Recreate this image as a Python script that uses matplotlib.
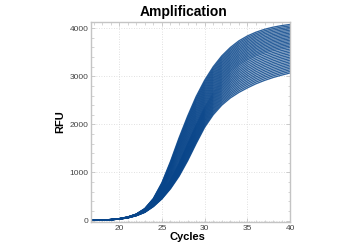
import matplotlib
matplotlib.use("Agg")
import matplotlib.pyplot as plt
import numpy as np
from matplotlib.ticker import MultipleLocator

plt.rcParams['font.family'] = ['Liberation Sans', 'DejaVu Sans']

title = "Amplification"
x_label = "Cycles"
y_label = "RFU"

cycles = [16, 17, 18, 19, 20, 21, 22, 23, 24, 25, 26, 27, 28,
          29, 30, 31, 32, 33, 34, 35, 36, 37, 38, 39, 40]

# RFU table: one row per cycle, one column per well
rfu_table = [
    [3, 3, 3, 3, 3, 3, 3, 3, 3, 3, 3, 3, 3, 3, 3, 3, 3, 3, 3, 3, 3, 3, 3, 3, 3, 3, 3, 3, 3, 3, 3, 3, 3],
    [5, 5, 5, 5, 5, 5, 5, 5, 5, 5, 5, 5, 5, 5, 5, 5, 5, 5, 5, 5, 5, 5, 5, 5, 6, 6, 6, 6, 6, 6, 6, 6, 6],
    [9, 9, 9, 9, 9, 9, 9, 9, 10, 10, 10, 10, 10, 10, 10, 10, 10, 10, 10, 10, 10, 10, 10, 10, 11, 11, 11, 11, 11, 11, 11, 11, 11],
    [17, 17, 17, 17, 18, 18, 18, 18, 18, 18, 18, 18, 19, 19, 19, 19, 19, 19, 19, 19, 20, 20, 20, 20, 20, 20, 20, 20, 21, 21, 21, 21, 21],
    [30, 30, 31, 31, 31, 32, 32, 32, 33, 33, 33, 33, 34, 34, 34, 35, 35, 35, 36, 36, 36, 37, 37, 37, 38, 38, 38, 38, 39, 39, 39, 40, 40],
    [55, 56, 56, 57, 58, 58, 59, 59, 60, 61, 61, 62, 63, 63, 64, 64, 65, 66, 66, 67, 68, 68, 69, 69, 70, 71, 71, 72, 73, 73, 74, 74, 75],
    [100, 101, 103, 104, 105, 106, 108, 109, 110, 111, 113, 114, 115, 116, 118, 119, 120, 121, 122, 123, 124, 125, 126, 127, 128, 128, 129, 130, 131, 132, 133, 134, 135],
    [170, 173, 175, 178, 180, 183, 185, 188, 190, 193, 195, 198, 200, 203, 205, 208, 210, 213, 215, 218, 220, 223, 225, 228, 230, 233, 235, 238, 240, 243, 245, 248, 250],
    [290, 294, 299, 303, 308, 312, 316, 321, 325, 329, 334, 338, 343, 347, 351, 356, 360, 366, 373, 379, 385, 391, 398, 404, 410, 416, 423, 429, 435, 441, 448, 454, 460],
    [450, 458, 465, 473, 480, 488, 495, 503, 510, 518, 525, 533, 540, 548, 555, 563, 570, 584, 598, 611, 625, 639, 653, 666, 680, 694, 708, 721, 735, 749, 763, 776, 790],
    [660, 672, 684, 696, 708, 719, 731, 743, 755, 767, 779, 791, 803, 814, 826, 838, 850, 874, 898, 921, 945, 969, 993, 1016, 1040, 1064, 1088, 1111, 1135, 1159, 1183, 1206, 1230],
    [920, 938, 955, 973, 990, 1008, 1025, 1043, 1060, 1078, 1095, 1113, 1130, 1148, 1165, 1183, 1200, 1233, 1265, 1298, 1330, 1363, 1395, 1428, 1460, 1493, 1525, 1558, 1590, 1623, 1655, 1688, 1720],
    [1240, 1263, 1286, 1309, 1333, 1356, 1379, 1402, 1425, 1448, 1471, 1494, 1518, 1541, 1564, 1587, 1610, 1645, 1680, 1715, 1750, 1785, 1820, 1855, 1890, 1925, 1960, 1995, 2030, 2065, 2100, 2135, 2170],
    [1600, 1626, 1651, 1677, 1703, 1728, 1754, 1779, 1805, 1831, 1856, 1882, 1908, 1933, 1959, 1984, 2010, 2046, 2081, 2117, 2153, 2188, 2224, 2259, 2295, 2331, 2366, 2402, 2438, 2473, 2509, 2544, 2580],
    [1940, 1967, 1994, 2021, 2048, 2074, 2101, 2128, 2155, 2182, 2209, 2236, 2263, 2289, 2316, 2343, 2370, 2404, 2439, 2473, 2508, 2542, 2576, 2611, 2645, 2679, 2714, 2748, 2783, 2817, 2851, 2886, 2920],
    [2200, 2229, 2259, 2288, 2318, 2347, 2376, 2406, 2435, 2464, 2494, 2523, 2553, 2582, 2611, 2641, 2670, 2703, 2736, 2769, 2803, 2836, 2869, 2902, 2935, 2968, 3001, 3034, 3068, 3101, 3134, 3167, 3200],
    [2400, 2432, 2464, 2496, 2528, 2559, 2591, 2623, 2655, 2687, 2719, 2751, 2783, 2814, 2846, 2878, 2910, 2942, 2974, 3007, 3039, 3071, 3103, 3135, 3168, 3200, 3232, 3264, 3296, 3328, 3361, 3393, 3425],
    [2550, 2584, 2618, 2651, 2685, 2719, 2753, 2786, 2820, 2854, 2888, 2921, 2955, 2989, 3023, 3056, 3090, 3122, 3154, 3186, 3218, 3249, 3281, 3313, 3345, 3377, 3409, 3441, 3473, 3504, 3536, 3568, 3600],
    [2665, 2700, 2736, 2771, 2806, 2842, 2877, 2912, 2948, 2983, 3018, 3053, 3089, 3124, 3159, 3195, 3230, 3262, 3294, 3325, 3357, 3389, 3421, 3452, 3484, 3516, 3548, 3579, 3611, 3643, 3675, 3706, 3738],
    [2760, 2796, 2833, 2869, 2905, 2941, 2978, 3014, 3050, 3086, 3123, 3159, 3195, 3231, 3268, 3304, 3340, 3371, 3403, 3434, 3465, 3496, 3528, 3559, 3590, 3621, 3653, 3684, 3715, 3746, 3778, 3809, 3840],
    [2845, 2881, 2917, 2953, 2989, 3025, 3061, 3097, 3133, 3168, 3204, 3240, 3276, 3312, 3348, 3384, 3420, 3451, 3482, 3513, 3545, 3576, 3607, 3638, 3669, 3700, 3731, 3762, 3794, 3825, 3856, 3887, 3918],
    [2915, 2950, 2986, 3021, 3056, 3092, 3127, 3162, 3198, 3233, 3268, 3303, 3339, 3374, 3409, 3445, 3480, 3511, 3542, 3573, 3605, 3636, 3667, 3698, 3729, 3760, 3791, 3822, 3854, 3885, 3916, 3947, 3978],
    [2975, 3010, 3044, 3079, 3114, 3148, 3183, 3218, 3253, 3287, 3322, 3357, 3391, 3426, 3461, 3495, 3530, 3561, 3592, 3622, 3653, 3684, 3715, 3745, 3776, 3807, 3838, 3868, 3899, 3930, 3961, 3991, 4022],
    [3025, 3059, 3093, 3127, 3161, 3195, 3229, 3263, 3298, 3332, 3366, 3400, 3434, 3468, 3502, 3536, 3570, 3600, 3631, 3661, 3691, 3722, 3752, 3782, 3813, 3843, 3873, 3903, 3934, 3964, 3994, 4025, 4055],
    [3070, 3103, 3136, 3169, 3203, 3236, 3269, 3302, 3335, 3368, 3401, 3434, 3468, 3501, 3534, 3567, 3600, 3630, 3660, 3690, 3720, 3750, 3780, 3810, 3840, 3869, 3899, 3929, 3959, 3989, 4019, 4049, 4079],
]

x_ticks = [20, 25, 30, 35, 40]
y_ticks = [0, 1000, 2000, 3000, 4000]

line_color = "#08458a"
frame_color = "#c4c4c4"
tick_label_color = "#444444"

fig = plt.figure(figsize=(3.5, 2.5), dpi=100)
ax = fig.add_axes([0.26, 0.112, 0.569, 0.80])

table = np.array(rfu_table)
for j in range(table.shape[1]):
    ax.plot(cycles, table[:, j], color=line_color, lw=0.95, alpha=0.85)

ax.set_xlim(16.7, 40)
ax.set_ylim(-30, 4130)
ax.set_xticks(x_ticks)
ax.set_yticks(y_ticks)
ax.xaxis.set_minor_locator(MultipleLocator(1))
ax.yaxis.set_minor_locator(MultipleLocator(200))

ax.grid(True, which='major', color='#d6d6d6', linestyle=(0, (1, 2)), lw=0.6)
ax.set_axisbelow(True)

for s in ax.spines.values():
    s.set_color(frame_color)
    s.set_linewidth(1.0)

ax.tick_params(which='both', direction='in', top=True, right=True,
               color=frame_color, labelsize=6, labelcolor=tick_label_color)
ax.tick_params(which='major', length=3, width=0.6, pad=2)
ax.tick_params(which='minor', length=1.8, width=0.5)

ax.set_title(title, fontsize=10, fontweight='bold', pad=4, x=0.463)
ax.set_xlabel(x_label, fontsize=8, fontweight='bold')
ax.xaxis.set_label_coords(0.482, -0.05)
ax.set_ylabel(y_label, fontsize=8, fontweight='bold', labelpad=2.5)

fig.savefig("out.png", dpi=100)
